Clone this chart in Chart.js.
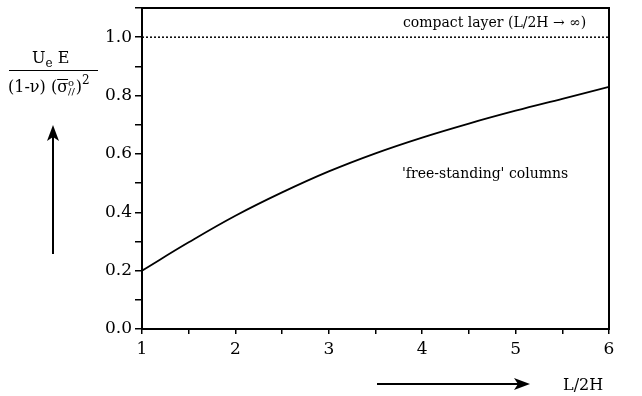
<!DOCTYPE html>
<html>
<head>
<meta charset="utf-8">
<script src="https://cdn.jsdelivr.net/npm/chart.js@4"></script>
<style>
  html, body { margin: 0; padding: 0; background: #fff; }
  #wrap { width: 642px; height: 396px; }
</style>
</head>
<body>
<div id="wrap"><canvas id="energy"></canvas></div>
<script>
// L/2H values and energy ratio for free-standing columns
const ratioL2H = [1, 1.5, 2, 2.5, 3, 3.5, 4, 4.5, 5, 5.5, 6];
const freeStanding = [0.20, 0.297, 0.388, 0.468, 0.54, 0.602, 0.656, 0.704, 0.748, 0.789, 0.83];
// compact layer limit
const compactX = [1, 6];
const compactY = [1.0, 1.0];

const yTickLabels = ['0.0', '0.2', '0.4', '0.6', '0.8', '1.0'];
const xTickLabels = ['1', '2', '3', '4', '5', '6'];

const serif = '"DejaVu Serif", "Liberation Serif", serif';
Chart.defaults.color = '#000';
Chart.defaults.font.family = serif;

const pts = (xs, ys) => xs.map((x, i) => ({ x: x, y: ys[i] }));

// writes a run of text pieces left to right, returns end x
function runText(ctx, x, baseline, pieces) {
  pieces.forEach(p => {
    ctx.font = p.size + 'px ' + serif;
    ctx.fillText(p.t, x, baseline + (p.dy || 0));
    const w = ctx.measureText(p.t).width;
    if (p.bar) ctx.fillRect(x, baseline - p.bar, w, 1);
    if (!p.noAdvance) x += w + (p.gap || 0);
  });
  return x;
}

// frame, annotations, axis titles with arrows
const decor = {
  id: 'decor',
  afterDraw(chart) {
    const ctx = chart.ctx;
    const a = chart.chartArea;
    ctx.save();
    ctx.strokeStyle = '#000';
    ctx.lineWidth = 2;
    ctx.strokeRect(a.left, a.top, a.right - a.left, a.bottom - a.top);

    ctx.fillStyle = '#000';
    ctx.textBaseline = 'alphabetic';
    ctx.textAlign = 'left';
    ctx.font = '14px ' + serif;
    ctx.fillText('compact layer (L/2H \u2192 \u221E)', 403, 27);
    ctx.fillText('\'free-standing\' columns', 402, 178);

    // y title as a fraction
    runText(ctx, 32, 63, [
      { t: 'U', size: 16 },
      { t: 'e', size: 12, dy: 4 },
      { t: ' E', size: 16 }
    ]);
    ctx.fillRect(9, 70, 89, 1);
    const sx = runText(ctx, 8, 92, [
      { t: '(1-\u03BD) (', size: 16 },
      { t: '\u03C3', size: 16, bar: 13 }
    ]);
    runText(ctx, sx, 92, [
      { t: 'o', size: 10, dy: -6, noAdvance: true },
      { t: '//', size: 10, dy: 3, gap: 1 },
      { t: ')', size: 16 },
      { t: '2', size: 12, dy: -8 }
    ]);

    // upward arrow
    ctx.lineWidth = 2;
    ctx.beginPath();
    ctx.moveTo(53, 254);
    ctx.lineTo(53, 135);
    ctx.stroke();
    ctx.beginPath();
    ctx.moveTo(53, 125);
    ctx.lineTo(47, 141);
    ctx.lineTo(53, 137);
    ctx.lineTo(59, 141);
    ctx.closePath();
    ctx.fill();

    // rightward arrow and x title
    ctx.beginPath();
    ctx.moveTo(377, 384);
    ctx.lineTo(520, 384);
    ctx.stroke();
    ctx.beginPath();
    ctx.moveTo(530, 384);
    ctx.lineTo(514, 378);
    ctx.lineTo(518, 384);
    ctx.lineTo(514, 390);
    ctx.closePath();
    ctx.fill();
    ctx.font = '16px ' + serif;
    ctx.fillText('L/2H', 563, 390);
    ctx.restore();
  }
};

new Chart(document.getElementById('energy'), {
  type: 'line',
  data: {
    datasets: [{
      label: 'free-standing columns',
      data: pts(ratioL2H, freeStanding),
      borderColor: '#000',
      borderWidth: 1.8,
      pointRadius: 0,
      tension: 0.4
    }, {
      label: 'compact layer',
      data: pts(compactX, compactY),
      borderColor: '#000',
      borderWidth: 1.5,
      borderDash: [2, 2],
      pointRadius: 0
    }]
  },
  options: {
    responsive: true,
    maintainAspectRatio: false,
    animation: false,
    layout: { padding: { top: 8, right: 33, left: 0, bottom: 0 } },
    plugins: { legend: { display: false }, tooltip: { enabled: false } },
    scales: {
      x: {
        type: 'linear',
        min: 1,
        max: 6,
        border: { display: false },
        grid: { drawOnChartArea: false, drawTicks: true, tickLength: 5, color: '#000', lineWidth: 1.5 },
        ticks: {
          stepSize: 0.5,
          autoSkip: false,
          maxRotation: 0,
          padding: 5,
          font: { size: 17 },
          callback: v => Number.isInteger(v) ? xTickLabels[v - 1] : ''
        },
        afterFit: s => { s.height = 67; s.paddingLeft = 0; s.paddingRight = 0; }
      },
      y: {
        min: 0,
        max: 1.1,
        border: { display: false },
        grid: { drawOnChartArea: false, drawTicks: true, tickLength: 7, color: '#000', lineWidth: 1.5 },
        ticks: {
          stepSize: 0.1,
          autoSkip: false,
          padding: 3,
          font: { size: 17 },
          callback: v => {
            const k = Math.round(v * 10);
            return (k % 2 === 0 && k <= 10) ? yTickLabels[k / 2] : '';
          }
        },
        afterFit: s => { s.width = 142; s.paddingTop = 0; s.paddingBottom = 0; }
      }
    }
  },
  plugins: [decor]
});
</script>
</body>
</html>
